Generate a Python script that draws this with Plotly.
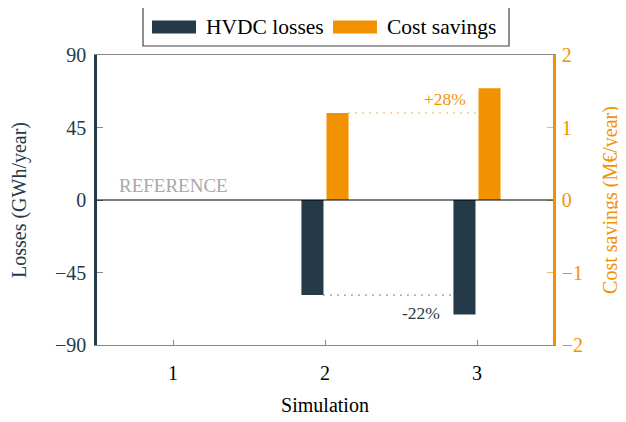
import plotly.graph_objects as go

simulations = [1, 2, 3]
hvdc_losses = [0, -59, -71]          # GWh/year
cost_savings = [0, 1.2, 1.54]        # M€/year
loss_ticks = [-90, -45, 0, 45, 90]
loss_tick_text = ["\u221290", "\u221245", "0", "45", "90"]
cost_ticks = [-2, -1, 0, 1, 2]
cost_tick_text = ["\u22122", "\u22121", "0", "1", "2"]
loss_change_label = "-22%"
cost_change_label = "+28%"

DARK = "#253A48"
ORANGE = "#F39200"
FONT = "Liberation Serif"
BW = 0.145
OFF_D = -0.155
OFF_O = 0.01

# page body has an 8px default margin; compensate so plot area lands at x 97..553, y 55..345
PAGE = 8
ML, MT, MR, MB = 97 - PAGE, 55 - PAGE, 73, 77
W, H = 626 - PAGE, 422 - PAGE

fig = go.Figure()
fig.add_trace(go.Bar(x=simulations, y=hvdc_losses, name="HVDC losses",
                     marker=dict(color=DARK, line=dict(width=0)),
                     width=BW, offset=OFF_D, yaxis="y", showlegend=False))
fig.add_trace(go.Bar(x=simulations, y=cost_savings, name="Cost savings",
                     marker=dict(color=ORANGE, line=dict(width=0)),
                     width=BW, offset=OFF_O, yaxis="y2", showlegend=False))

shapes = []
shapes.append(dict(type="line", xref="x", yref="y2",
                   x0=simulations[1] + OFF_O + BW, x1=simulations[2] + OFF_O,
                   y0=cost_savings[1], y1=cost_savings[1],
                   line=dict(color=ORANGE, width=1.3, dash="1px,6px")))
shapes.append(dict(type="line", xref="x", yref="y",
                   x0=simulations[1] + OFF_D + BW, x1=simulations[2] + OFF_D,
                   y0=hvdc_losses[1], y1=hvdc_losses[1],
                   line=dict(color=DARK, width=1.3, dash="1px,6px")))
shapes.append(dict(type="line", xref="paper", yref="y", x0=0, x1=1, y0=0, y1=0,
                   line=dict(color="black", width=1.2)))

PW, PH = 456, 290
def px_x(px):
    return (px - 97) / PW
def px_y(py):
    return (345 - py) / PH

shapes.append(dict(type="rect", xref="paper", yref="paper",
                   x0=px_x(143), x1=px_x(509), y0=px_y(46), y1=px_y(7),
                   line=dict(color="#444444", width=1.2), fillcolor="white"))
shapes.append(dict(type="rect", xref="paper", yref="paper",
                   x0=px_x(152), x1=px_x(196), y0=px_y(33.5), y1=px_y(20.5),
                   line=dict(width=0), fillcolor=DARK))
shapes.append(dict(type="rect", xref="paper", yref="paper",
                   x0=px_x(333), x1=px_x(377), y0=px_y(33.5), y1=px_y(20.5),
                   line=dict(width=0), fillcolor=ORANGE))

annotations = [
    dict(text="HVDC losses", xref="paper", yref="paper", x=px_x(204), y=px_y(27),
         xanchor="left", yanchor="middle", showarrow=False,
         font=dict(family=FONT, size=21.5, color="black")),
    dict(text="Cost savings", xref="paper", yref="paper", x=px_x(385), y=px_y(27),
         xanchor="left", yanchor="middle", showarrow=False,
         font=dict(family=FONT, size=21.5, color="black")),
    dict(text="REFERENCE", xref="x", yref="y", x=simulations[0], y=0,
         xanchor="center", yanchor="bottom", yshift=2, showarrow=False,
         font=dict(family=FONT, size=19, color="#a8a8a8")),
    dict(text=cost_change_label, xref="x", yref="y2", x=simulations[2] + OFF_O, y=cost_savings[1],
         xanchor="right", yanchor="bottom", xshift=-11, yshift=2, showarrow=False,
         font=dict(family=FONT, size=17.5, color=ORANGE)),
    dict(text=loss_change_label, xref="x", yref="y", x=simulations[2] + OFF_D, y=hvdc_losses[1],
         xanchor="right", yanchor="top", xshift=-11, yshift=-6, showarrow=False,
         font=dict(family=FONT, size=17.5, color=DARK)),
]

fig.update_layout(
    width=W, height=H,
    margin=dict(l=ML, r=MR, t=MT, b=MB, autoexpand=False),
    paper_bgcolor="white", plot_bgcolor="white",
    font=dict(family=FONT, size=20, color="black"),
    barmode="overlay",
    showlegend=False,
    shapes=shapes,
    annotations=annotations,
    xaxis=dict(range=[0.5, 3.5], tickvals=simulations, ticktext=[str(s) for s in simulations],
               ticks="inside", ticklen=5, tickcolor="#888888",
               showline=True, linecolor="#888888", linewidth=1, mirror=True,
               showgrid=False, zeroline=False, automargin=False,
               ticklabelstandoff=10,
               tickfont=dict(family=FONT, size=20, color="black"),
               title=dict(text="Simulation", font=dict(family=FONT, size=20, color="black"), standoff=14)),
    yaxis=dict(range=[-90, 90], tickvals=loss_ticks, ticktext=loss_tick_text,
               ticks="inside", ticklen=6, tickcolor="#888888",
               showline=True, linecolor=DARK, linewidth=2.5,
               showgrid=False, zeroline=False, automargin=False,
               ticklabelstandoff=4,
               tickfont=dict(family=FONT, size=20, color=DARK),
               title=dict(text="Losses (GWh/year)", font=dict(family=FONT, size=20, color=DARK), standoff=28)),
    yaxis2=dict(range=[-2, 2], tickvals=cost_ticks, ticktext=cost_tick_text,
                overlaying="y", side="right",
                ticks="inside", ticklen=6, tickcolor="#F6B860",
                showline=True, linecolor=ORANGE, linewidth=2.5,
                showgrid=False, zeroline=False, automargin=False,
                ticklabelstandoff=2,
                tickfont=dict(family=FONT, size=20, color=ORANGE),
                title=dict(text="Cost savings (M\u20ac/year)", font=dict(family=FONT, size=20, color=ORANGE), standoff=21)),
)

fig.write_html("out.html")
